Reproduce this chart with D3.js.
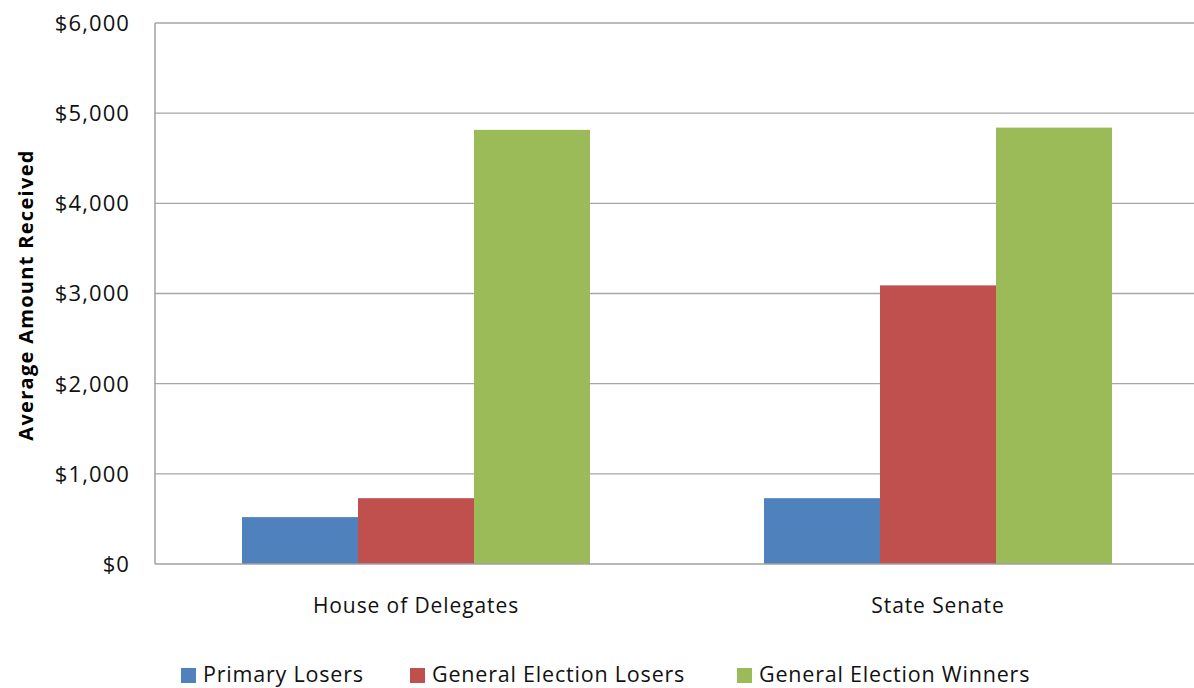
<!DOCTYPE html>
<html><head><meta charset="utf-8">
<script src="https://cdn.jsdelivr.net/npm/d3@7"></script>
<style>
body{margin:0;background:#fff;}
svg text{font-family:"Open Sans",Lato,sans-serif;fill:#000;}
</style></head>
<body><svg id="c" width="1194" height="688"></svg>
<script>
const categories = ["House of Delegates", "State Senate"];
const seriesNames = ["Primary Losers", "General Election Losers", "General Election Winners"];
const primaryLosers = [520, 730];
const generalLosers = [730, 3090];
const generalWinners = [4815, 4840];
const yTicks = [0, 1000, 2000, 3000, 4000, 5000, 6000];
const colors = ["#4F81BD", "#C0504D", "#9BBB59"];

const seriesValues = [primaryLosers, generalLosers, generalWinners];
const svg = d3.select("#c");
const m = {left:155, top:23, right:1199, bottom:564};

const x0 = d3.scaleBand().domain(categories).range([m.left, m.right]).paddingInner(0.5/1.5).paddingOuter(0.25/1.5);
const x1 = d3.scaleBand().domain(seriesNames).range([0, x0.bandwidth()]);
const y = d3.scaleLinear().domain([0, 6000]).range([m.bottom, m.top]);

// gridlines
svg.append("g").selectAll("line").data(yTicks.filter(d=>d>0)).join("line")
  .attr("x1", m.left).attr("x2", m.right)
  .attr("y1", d=>y(d)).attr("y2", d=>y(d))
  .attr("stroke", "#a6a6a6").attr("stroke-width", 1.3);

// bars
const g = svg.append("g");
categories.forEach((c, ci) => {
  seriesNames.forEach((s, si) => {
    const v = seriesValues[si][ci];
    g.append("rect")
      .attr("x", x0(c) + x1(s)).attr("width", x1.bandwidth())
      .attr("y", y(v)).attr("height", y(0) - y(v))
      .attr("fill", colors[si]);
  });
});

// axes lines
svg.append("line").attr("x1", m.left).attr("x2", m.left).attr("y1", m.top).attr("y2", m.bottom)
  .attr("stroke", "#a0a0a0").attr("stroke-width", 1.5);
svg.append("line").attr("x1", m.left).attr("x2", m.right).attr("y1", m.bottom).attr("y2", m.bottom)
  .attr("stroke", "#a0a0a0").attr("stroke-width", 1.5);

// y axis labels
const fmt = d3.format("$,");
svg.append("g").selectAll("text").data(yTicks).join("text")
  .attr("x", 130).attr("y", d=>y(d)).attr("dy", "0.36em")
  .attr("text-anchor", "end").attr("font-size", 22)
  .attr("letter-spacing", 1.1)
  .style("fill", "#111")
  .text(d=>fmt(d));

// category labels
svg.append("g").selectAll("text").data(categories).join("text")
  .attr("x", d=>x0(d) + x0.bandwidth()/2).attr("y", 613)
  .attr("text-anchor", "middle").attr("font-size", 21)
  .attr("letter-spacing", 0.9)
  .style("fill", "#111")
  .text(d=>d);

// y title
svg.append("text").attr("transform", "translate(26,295) rotate(-90)")
  .attr("text-anchor", "middle").attr("font-size", 20).attr("font-weight", "bold")
  .attr("letter-spacing", 1.3)
  .attr("dy", "0.35em")
  .text("Average Amount Received");

// legend
const lg = svg.append("g");
const legendX = [181, 410, 737];
seriesNames.forEach((s, i) => {
  lg.append("rect").attr("x", legendX[i]).attr("y", 668).attr("width", 15).attr("height", 15).attr("fill", colors[i]);
  lg.append("text").attr("x", legendX[i] + 22).attr("y", 682)
    .attr("font-size", 21.5).attr("letter-spacing", 0.8).style("fill", "#111").text(s);
});
</script></body></html>
